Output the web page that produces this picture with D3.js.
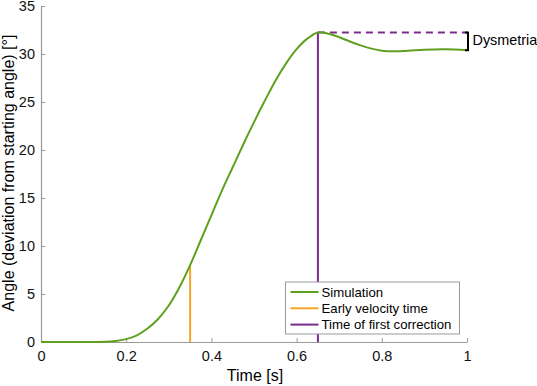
<!DOCTYPE html>
<html>
<head>
<meta charset="utf-8">
<script src="https://cdn.jsdelivr.net/npm/d3@7"></script>
<style>
  body { margin: 0; background: #fff; }
  text { font-family: "Liberation Sans", Arial, sans-serif; }
</style>
</head>
<body>
<script>
// Simulated angle over time
const time = [0, 0.05, 0.1, 0.15, 0.175, 0.2, 0.225, 0.25, 0.275, 0.3, 0.325, 0.35, 0.375, 0.4, 0.425, 0.45, 0.475, 0.5, 0.525, 0.55, 0.575, 0.6, 0.625, 0.65, 0.675, 0.7, 0.75, 0.8, 0.85, 0.9, 0.95, 1.0];
const angle = [0, 0, 0, 0.02, 0.1, 0.3, 0.7, 1.4, 2.4, 3.8, 5.7, 8, 10.6, 13.2, 15.8, 18.2, 20.6, 22.9, 25.1, 27.2, 29.0, 30.5, 31.6, 32.25, 32.1, 31.75, 30.9, 30.35, 30.3, 30.45, 30.5, 30.4];

const earlyVelocityTime = 0.35;
const earlyVelocityAngle = 8;
const firstCorrectionTime = 0.65;
const peakAngle = 32.25;
const finalAngle = 30.4;

const xTicks = [0, 0.2, 0.4, 0.6, 0.8, 1];
const yTicks = [0, 5, 10, 15, 20, 25, 30, 35];

const legendItems = ['Simulation', 'Early velocity time', 'Time of first correction'];
const colors = ['#5fa11f', '#f5a623', '#7b2a8e'];

const width = 537, height = 386;
const margin = { left: 41, right: 70, top: 6, bottom: 44 };

const svg = d3.select('body').append('svg')
    .attr('width', width)
    .attr('height', height);

const x = d3.scaleLinear().domain([0, 1]).range([margin.left, width - margin.right]);
const y = d3.scaleLinear().domain([0, 35]).range([height - margin.bottom, margin.top]);

// Axes (MATLAB style: ticks pointing inward, grey)
const xAxis = svg.append('g')
    .attr('transform', 'translate(0,' + y(0) + ')')
    .call(d3.axisBottom(x).tickValues(xTicks).tickFormat(d3.format('')).tickSizeInner(-4).tickSizeOuter(0).tickPadding(9));
const yAxis = svg.append('g')
    .attr('transform', 'translate(' + x(0) + ',0)')
    .call(d3.axisLeft(y).tickValues(yTicks).tickSizeInner(-4).tickSizeOuter(0).tickPadding(6));

[xAxis, yAxis].forEach(a => {
    a.select('.domain').attr('stroke', '#9a9a9a').attr('stroke-width', 1.2);
    a.selectAll('.tick line').attr('stroke', '#9a9a9a');
    a.selectAll('.tick text').attr('fill', '#111').style('font-size', '14.5px');
});

// Axis labels
svg.append('text')
    .attr('x', 255)
    .attr('y', 381)
    .attr('text-anchor', 'middle')
    .style('font-size', '16px')
    .text('Time [s]');
svg.append('text')
    .attr('transform', 'translate(14,173) rotate(-90)')
    .attr('text-anchor', 'middle')
    .style('font-size', '16px')
    .text('Angle (deviation from starting angle) [°]');

// Early velocity marker
svg.append('line')
    .attr('x1', x(earlyVelocityTime)).attr('x2', x(earlyVelocityTime))
    .attr('y1', y(0)).attr('y2', y(earlyVelocityAngle))
    .attr('stroke', colors[1]).attr('stroke-width', 2);

// First correction marker
svg.append('line')
    .attr('x1', x(firstCorrectionTime)).attr('x2', x(firstCorrectionTime))
    .attr('y1', y(0)).attr('y2', y(peakAngle))
    .attr('stroke', colors[2]).attr('stroke-width', 2);

// Dashed peak line
svg.append('line')
    .attr('x1', x(firstCorrectionTime)).attr('x2', x(1))
    .attr('y1', y(peakAngle)).attr('y2', y(peakAngle))
    .attr('stroke', colors[2]).attr('stroke-width', 2)
    .attr('stroke-dasharray', '7,5');

// Simulation curve
const line = d3.line()
    .x((d, i) => x(time[i]))
    .y(d => y(d))
    .curve(d3.curveCatmullRom);
svg.append('path')
    .datum(angle)
    .attr('d', line)
    .attr('fill', 'none')
    .attr('stroke', colors[0])
    .attr('stroke-width', 2);

// Dysmetria bracket
const bx = x(1) + 1;
svg.append('path')
    .attr('d', 'M' + (bx - 3) + ',' + y(peakAngle) + 'H' + bx + 'V' + y(finalAngle) + 'H' + (bx - 3))
    .attr('fill', 'none')
    .attr('stroke', '#000')
    .attr('stroke-width', 2);
svg.append('text')
    .attr('x', bx + 4.5)
    .attr('y', 45)
    .style('font-size', '14.4px')
    .text('Dysmetria');

// Legend
const lg = svg.append('g').attr('transform', 'translate(285.5,282)');
lg.append('rect')
    .attr('width', 174).attr('height', 52)
    .attr('fill', '#fff')
    .attr('stroke', '#9a9a9a');
legendItems.forEach((name, i) => {
    const ly = 10 + i * 16.3;
    lg.append('line')
        .attr('x1', 5).attr('x2', 33)
        .attr('y1', ly).attr('y2', ly)
        .attr('stroke', colors[i]).attr('stroke-width', 2);
    lg.append('text')
        .attr('x', 36).attr('y', ly + 4.7)
        .style('font-size', '13.2px')
        .text(name);
});
</script>
</body>
</html>
